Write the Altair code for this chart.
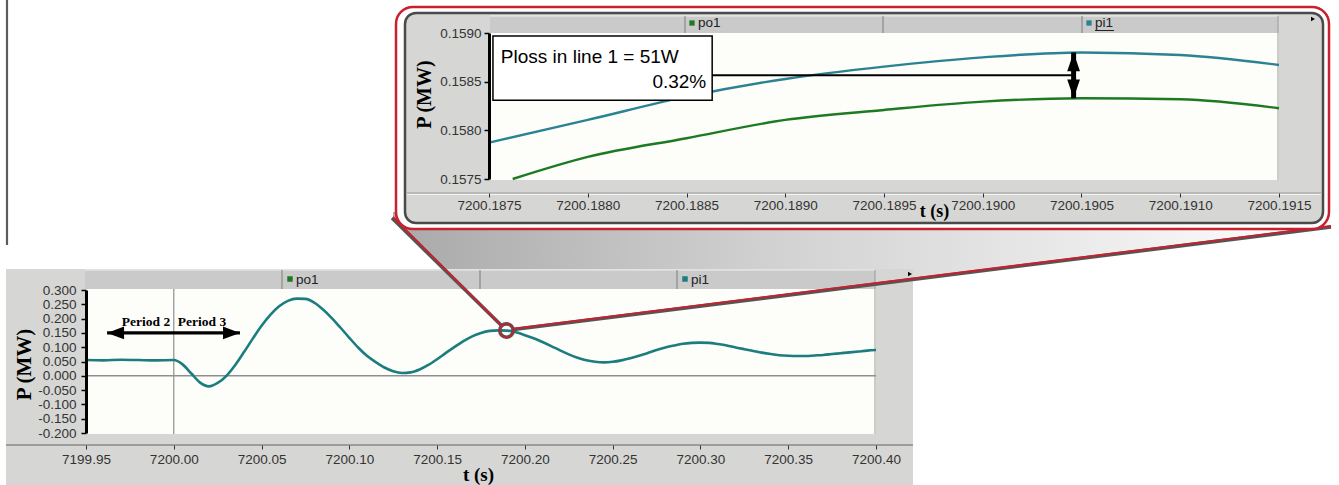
import altair as alt
import pandas as pd

# ---------------- data ----------------
# pi1 power over the whole disturbance (MW)
main_t = [7199.950, 7199.960, 7199.970, 7199.980, 7199.990,
          7200.000, 7200.005, 7200.010, 7200.015, 7200.020, 7200.025, 7200.030, 7200.035, 7200.040, 7200.045,
          7200.050, 7200.055, 7200.060, 7200.065, 7200.070, 7200.075, 7200.080, 7200.085, 7200.090, 7200.095,
          7200.100, 7200.105, 7200.110, 7200.115, 7200.120, 7200.125, 7200.130, 7200.135, 7200.140, 7200.145,
          7200.150, 7200.155, 7200.160, 7200.165, 7200.170, 7200.175, 7200.180, 7200.185, 7200.190, 7200.195,
          7200.200, 7200.205, 7200.210, 7200.215, 7200.220, 7200.225, 7200.230, 7200.235, 7200.240, 7200.245,
          7200.250, 7200.255, 7200.260, 7200.265, 7200.270, 7200.275, 7200.280, 7200.285, 7200.290, 7200.295,
          7200.300, 7200.305, 7200.310, 7200.315, 7200.320, 7200.325, 7200.330, 7200.335, 7200.340, 7200.345,
          7200.350, 7200.355, 7200.360, 7200.365, 7200.370, 7200.375, 7200.380, 7200.385, 7200.390, 7200.395,
          7200.400]
main_p = [0.055, 0.054, 0.056, 0.055, 0.054,
          0.055, 0.040, 0.008, -0.024, -0.037, -0.025, 0.000, 0.038, 0.083, 0.130,
          0.175, 0.213, 0.243, 0.262, 0.270, 0.269, 0.256, 0.232, 0.202, 0.168,
          0.133, 0.099, 0.070, 0.048, 0.029, 0.016, 0.010, 0.012, 0.022, 0.038,
          0.058, 0.080, 0.101, 0.121, 0.138, 0.150, 0.157, 0.159, 0.158, 0.152,
          0.142, 0.131, 0.118, 0.104, 0.089, 0.075, 0.063, 0.054, 0.049, 0.047,
          0.049, 0.054, 0.061, 0.070, 0.080, 0.090, 0.099, 0.106, 0.112, 0.115,
          0.116, 0.115, 0.111, 0.106, 0.099, 0.093, 0.087, 0.081, 0.076, 0.072,
          0.070, 0.069, 0.069, 0.071, 0.073, 0.076, 0.079, 0.082, 0.085, 0.088,
          0.090]

# magnified crest: line input (pi1) and output (po1) power, MW
zoom_pi1_t = [7200.1875, 7200.1880, 7200.1885, 7200.1890, 7200.1895,
              7200.1900, 7200.1905, 7200.1910, 7200.1915]
zoom_pi1_p = [0.157874, 0.158107, 0.158346, 0.158528, 0.158655,
              0.158750, 0.158800, 0.158774, 0.158671]
zoom_po1_t = [7200.18762, 7200.1880, 7200.1885, 7200.1890, 7200.1895,
              7200.1900, 7200.1905, 7200.1910, 7200.1915]
zoom_po1_p = [0.157500, 0.157727, 0.157919, 0.158107, 0.158209,
              0.158295, 0.158330, 0.158319, 0.158227]

main_x_ticks = [7199.95, 7200.00, 7200.05, 7200.10, 7200.15,
                7200.20, 7200.25, 7200.30, 7200.35, 7200.40]
main_y_ticks = [-0.200, -0.150, -0.100, -0.050, 0.000, 0.050,
                0.100, 0.150, 0.200, 0.250, 0.300]
zoom_x_ticks = [7200.1875, 7200.1880, 7200.1885, 7200.1890, 7200.1895,
                7200.1900, 7200.1905, 7200.1910, 7200.1915]
zoom_y_ticks = [0.1575, 0.1580, 0.1585, 0.1590]

series_names = ["po1", "pi1"]
period_names = ["Period 2", "Period 3"]
event_t = 7200.00                      # switching instant between periods
loss_text = ["Ploss in line 1 = 51W", "0.32%"]
gap_t = 7200.19046                     # where the loss gap is measured
gap_hi = 0.158800                      # pi1 there
gap_lo = 0.158330                      # po1 there

# ---------------- styling / layout ----------------
W, H = 1339, 485
SANS = "Liberation Sans"
SERIF = "Liberation Serif"
GREEN = "#1d7a22"
TEAL = "#1c7d7e"
TEAL_Z = "#2a8393"
FRAME = "#d6d6d4"
STRIP = "#cacaca"
PLOT = "#fdfdfa"
LABEL = "#333333"
RED = "#c8202e"

# lower panel
M_LEFT, M_RIGHT, M_TOP, M_BOTTOM, M_AXIS_Y = 86, 876, 290, 433, 445
# upper (magnified) panel
Z_LEFT, Z_RIGHT, Z_TOP, Z_BOTTOM, Z_AXIS_Y = 489, 1279, 33, 179, 193

ONE = pd.DataFrame({"k": [0]})


def box(x0, y0, x1, y1, **kw):
    return alt.Chart(ONE).mark_rect(**kw).encode(
        x=alt.value(x0), x2=alt.value(x1), y=alt.value(y0), y2=alt.value(y1))


def seg(x0, y0, x1, y1, **kw):
    return alt.Chart(ONE).mark_rule(**kw).encode(
        x=alt.value(x0), x2=alt.value(x1), y=alt.value(y0), y2=alt.value(y1))


def txt(x, y, text, **kw):
    return alt.Chart(ONE).mark_text(text=text, **kw).encode(x=alt.value(x), y=alt.value(y))


def dot(x, y, **kw):
    return alt.Chart(ONE).mark_point(filled=True, opacity=1, **kw).encode(
        x=alt.value(x), y=alt.value(y))


# arrowheads with the tip at the anchor point
HEAD_L = "M0,0L4,-1.5L4,1.5Z"
HEAD_R = "M0,0L-4,-1.5L-4,1.5Z"
HEAD_U = "M0,0L-1.5,4.4L1.5,4.4Z"
HEAD_D = "M0,0L-1.5,-4.4L1.5,-4.4Z"

# ---------------- lower panel ----------------
mxs = alt.Scale(domain=[main_x_ticks[0], main_x_ticks[-1]], range=[M_LEFT, M_RIGHT], nice=False, zero=False)
mys = alt.Scale(domain=[main_y_ticks[0], main_y_ticks[-1]], range=[M_BOTTOM, M_TOP], nice=False, zero=False)

main_x_axis = alt.Axis(orient="bottom", offset=M_AXIS_Y - H, values=main_x_ticks, format=".2f",
                       domain=False, grid=False, tickSize=4, tickColor="#333", tickWidth=1,
                       labelFont=SANS, labelFontSize=13.5, labelColor=LABEL, labelPadding=3,
                       labelFlush=False, labelOverlap=False, labelBound=False, zindex=1,
                       title="t (s)", titleFont=SERIF, titleFontSize=19, titleFontWeight="bold",
                       titleColor="black", titleX=478, titleY=29, titleAlign="center",
                       titleBaseline="middle")
main_y_axis = alt.Axis(orient="left", offset=-M_LEFT, values=main_y_ticks, format=".3f",
                       labelExpr="replace(datum.label, '\u2212', '-')",
                       domain=True, domainColor="black", domainWidth=3, grid=False,
                       tickSize=5, tickColor="black", tickWidth=1.5,
                       labelFont=SANS, labelFontSize=13.5, labelColor=LABEL, labelPadding=5,
                       labelFlush=False, labelOverlap=False, labelBound=False, zindex=1,
                       title="P (MW)", titleFont=SERIF, titleFontSize=21, titleFontWeight="bold",
                       titleColor="black", titleX=24 - M_LEFT, titleY=364, titleAngle=270,
                       titleAlign="center", titleBaseline="middle")


def MX(f):
    return alt.X(f, type="quantitative", scale=mxs, axis=main_x_axis)


def MY(f):
    return alt.Y(f, type="quantitative", scale=mys, axis=main_y_axis)


main_df = pd.DataFrame({"t": main_t, "p": main_p})

main_layers = [
    box(6, 269, 913, 485, fill=FRAME),
    box(85, 270, 875, 289, fill=STRIP),
    seg(85, 270, 875, 270, color="#eeeeee", strokeWidth=1),
    box(M_LEFT, 289, M_RIGHT, 434, fill=PLOT),
    seg(282, 270, 282, 289, color="#7c7c7c", strokeWidth=1),
    seg(480, 270, 480, 289, color="#7c7c7c", strokeWidth=1),
    seg(677, 270, 677, 289, color="#7c7c7c", strokeWidth=1),
    seg(875, 270, 875, 434, color="#9a9a9a", strokeWidth=1),
    seg(6, M_AXIS_Y, 913, M_AXIS_Y, color="#8a8a8a", strokeWidth=1.5),
    dot(910, 274, shape="triangle-right", size=22, color="black"),
    dot(290, 279, shape="square", size=30, color=GREEN),
    txt(296, 280, series_names[0], font=SANS, fontSize=13.5, color="#222", align="left", baseline="middle"),
    dot(685, 279, shape="square", size=30, color=TEAL),
    txt(691, 280, series_names[1], font=SANS, fontSize=13.5, color="#222", align="left", baseline="middle"),
    alt.Chart(pd.DataFrame({"t": [event_t]})).mark_rule(color="#8f8f8f", strokeWidth=1.2).encode(
        x=MX("t"), y=alt.value(289), y2=alt.value(434)),
    alt.Chart(pd.DataFrame({"p": [0.0]})).mark_rule(color="#8f8f8f", strokeWidth=1.5).encode(
        y=MY("p"), x=alt.value(M_LEFT), x2=alt.value(M_RIGHT)),
    alt.Chart(main_df).mark_line(color=TEAL, strokeWidth=2.6, interpolate="monotone").encode(
        x=MX("t"), y=MY("p")),
]

# "Period 2 | Period 3" double arrow across the switching instant
arrow_df = pd.DataFrame({"t0": [7199.962], "t1": [7200.0377], "p": [0.15]})
main_layers += [
    alt.Chart(arrow_df).mark_rule(color="black", strokeWidth=3.2).encode(
        x=MX("t0"), x2="t1", y=MY("p")),
    alt.Chart(arrow_df).mark_point(shape=HEAD_L, size=72, filled=True, opacity=1, color="black").encode(
        x=MX("t0"), y=MY("p")),
    alt.Chart(arrow_df).mark_point(shape=HEAD_R, size=72, filled=True, opacity=1, color="black").encode(
        x=MX("t1"), y=MY("p")),
    alt.Chart(pd.DataFrame({"t": [7199.9842, 7200.0161], "p": [0.188, 0.188], "lab": period_names}))
    .mark_text(font=SERIF, fontSize=13.5, fontWeight="bold", color="black", baseline="middle")
    .encode(x=MX("t"), y=MY("p"), text="lab:N"),
]
main_group = alt.layer(*main_layers)

# ---------------- callout between the panels ----------------
zc_t = (zoom_x_ticks[0] + zoom_x_ticks[-1]) / 2
zc_p = (zoom_y_ticks[0] + zoom_y_ticks[-1]) / 2
cx = M_LEFT + (zc_t - main_x_ticks[0]) / (main_x_ticks[-1] - main_x_ticks[0]) * (M_RIGHT - M_LEFT)
cy = M_BOTTOM - (zc_p - main_y_ticks[0]) / (main_y_ticks[-1] - main_y_ticks[0]) * (M_BOTTOM - M_TOP)

shadow_df = pd.DataFrame({"x": [393, cx, 1331], "y": [212, 212, 212], "y2": [217, cy, 226]})
shadow = alt.Chart(shadow_df).mark_area(
    opacity=0.85,
    color=alt.Gradient(gradient="linear",
                       stops=[alt.GradientStop(color="#9a9a9a", offset=0),
                              alt.GradientStop(color="#c9c9c9", offset=0.4),
                              alt.GradientStop(color="#ffffff", offset=1)],
                       x1=0, x2=1, y1=0, y2=0)
).encode(x=alt.X("x:Q", scale=None, axis=None), y=alt.Y("y:Q", scale=None, axis=None),
         y2="y2:Q")

callout = [
    seg(392, 218, cx - 5.5, cy - 5.5, color="#555555", strokeWidth=3.6),
    seg(393, 217, cx - 5.5, cy - 5.5, color=RED, strokeWidth=1.8),
    seg(cx + 7, cy - 1, 1331, 227, color="#555555", strokeWidth=3.6),
    seg(cx + 7, cy - 2, 1331, 226, color=RED, strokeWidth=1.8),
]
circle = [
    alt.Chart(pd.DataFrame({"t": [zc_t], "p": [zc_p]})).mark_point(
        shape="circle", size=180, filled=False, opacity=1, color="#555555", strokeWidth=3.6).encode(
        x=alt.X("t:Q", scale=mxs, axis=None), y=alt.Y("p:Q", scale=mys, axis=None)),
    alt.Chart(pd.DataFrame({"t": [zc_t], "p": [zc_p]})).mark_point(
        shape="circle", size=180, filled=False, opacity=1, color=RED, strokeWidth=1.6).encode(
        x=alt.X("t:Q", scale=mxs, axis=None), y=alt.Y("p:Q", scale=mys, axis=None)),
]

# ---------------- upper (magnified) panel ----------------
zxs = alt.Scale(domain=[zoom_x_ticks[0], zoom_x_ticks[-1]], range=[Z_LEFT, Z_RIGHT], nice=False, zero=False)
zys = alt.Scale(domain=[zoom_y_ticks[0], zoom_y_ticks[-1]], range=[Z_BOTTOM, Z_TOP], nice=False, zero=False)

zoom_x_axis = alt.Axis(orient="bottom", offset=Z_AXIS_Y - H, values=zoom_x_ticks, format=".4f",
                       domain=False, grid=False, tickSize=4, tickColor="#333", tickWidth=1,
                       labelFont=SANS, labelFontSize=13.5, labelColor=LABEL, labelPadding=1,
                       labelFlush=False, labelOverlap=False, labelBound=False, zindex=1,
                       title="t (s)", titleFont=SERIF, titleFontSize=18, titleFontWeight="bold",
                       titleColor="black", titleX=934, titleY=18, titleAlign="center",
                       titleBaseline="middle")
zoom_y_axis = alt.Axis(orient="left", offset=-Z_LEFT, values=zoom_y_ticks, format=".4f",
                       domain=True, domainColor="black", domainWidth=3, grid=False,
                       tickSize=5, tickColor="black", tickWidth=1.5,
                       labelFont=SANS, labelFontSize=13.5, labelColor=LABEL, labelPadding=3,
                       labelFlush=False, labelOverlap=False, labelBound=False, zindex=1,
                       title="P (MW)", titleFont=SERIF, titleFontSize=20, titleFontWeight="bold",
                       titleColor="black", titleX=424 - Z_LEFT, titleY=94, titleAngle=270,
                       titleAlign="center", titleBaseline="middle")


def ZX(f):
    return alt.X(f, type="quantitative", scale=zxs, axis=zoom_x_axis)


def ZY(f):
    return alt.Y(f, type="quantitative", scale=zys, axis=zoom_y_axis)


pi1_df = pd.DataFrame({"t": zoom_pi1_t, "p": zoom_pi1_p})
po1_df = pd.DataFrame({"t": zoom_po1_t, "p": zoom_po1_p})
gap_df = pd.DataFrame({"t": [gap_t], "hi": [gap_hi], "lo": [gap_lo],
                       "mid": [(gap_hi + gap_lo) / 2], "t0": [7200.18863]})
note_df = pd.DataFrame({"t0": [7200.18752], "t1": [7200.18863], "p0": [0.15831], "p1": [0.15897]})

zoom_layers = [
    box(396, 7, 1329, 229, fill="white", stroke=RED, strokeWidth=2.5, cornerRadius=17),
    box(405, 13, 1323, 223, fill=FRAME, stroke="#4a4a4a", strokeWidth=2.5, cornerRadius=11),
    box(490, 16, 1278, 33, fill=STRIP),
    seg(490, 16, 1278, 16, color="#eeeeee", strokeWidth=1),
    box(Z_LEFT, Z_TOP, Z_RIGHT, 180, fill=PLOT),
    seg(685, 16, 685, 33, color="#7c7c7c", strokeWidth=1),
    seg(883, 16, 883, 33, color="#7c7c7c", strokeWidth=1),
    seg(1082, 16, 1082, 33, color="#7c7c7c", strokeWidth=1),
    seg(1278, 16, 1278, 180, color="#9a9a9a", strokeWidth=1),
    seg(407, Z_AXIS_Y, 1321, Z_AXIS_Y, color="#9c9c9c", strokeWidth=1),
    seg(407, Z_AXIS_Y + 1.5, 1321, Z_AXIS_Y + 1.5, color="#f4f4f4", strokeWidth=1),
    dot(1313, 19, shape="triangle-right", size=22, color="black"),
    dot(692, 23, shape="square", size=28, color=GREEN),
    txt(698, 23, series_names[0], font=SANS, fontSize=13.5, color="#222", align="left", baseline="middle"),
    dot(1089, 23, shape="square", size=28, color=TEAL_Z),
    txt(1095, 23, series_names[1], font=SANS, fontSize=13.5, color="#222", align="left", baseline="middle"),
    seg(1095, 30.5, 1114, 30.5, color="#222", strokeWidth=1),
    alt.Chart(po1_df).mark_line(color=GREEN, strokeWidth=2.4, interpolate="monotone").encode(
        x=ZX("t"), y=ZY("p")),
    alt.Chart(pi1_df).mark_line(color=TEAL_Z, strokeWidth=2.4, interpolate="monotone").encode(
        x=ZX("t"), y=ZY("p")),
    # loss annotation box
    alt.Chart(note_df).mark_rect(fill="white", stroke="black", strokeWidth=1.5).encode(
        x=ZX("t0"), x2="t1", y=ZY("p0"), y2="p1"),
    alt.Chart(pd.DataFrame({"t": [7200.18756], "p": [0.158754]})).mark_text(
        text=loss_text[0], font=SANS, fontSize=19, color="black", align="left", baseline="middle").encode(
        x=ZX("t"), y=ZY("p")),
    alt.Chart(pd.DataFrame({"t": [7200.18860], "p": [0.158492]})).mark_text(
        text=loss_text[1], font=SANS, fontSize=19, color="black", align="right", baseline="middle").encode(
        x=ZX("t"), y=ZY("p")),
    # leader from the box to the gap, and the double arrow spanning it
    alt.Chart(gap_df).mark_rule(color="black", strokeWidth=2).encode(
        x=ZX("t0"), x2="t", y=ZY("mid")),
    alt.Chart(gap_df).mark_rule(color="black", strokeWidth=5).encode(
        x=ZX("t"), y=ZY("hi"), y2="lo"),
    alt.Chart(gap_df).mark_point(shape=HEAD_U, size=72, filled=True, opacity=1, color="black").encode(
        x=ZX("t"), y=ZY("hi")),
    alt.Chart(gap_df).mark_point(shape=HEAD_D, size=72, filled=True, opacity=1, color="black").encode(
        x=ZX("t"), y=ZY("lo")),
]
zoom_group = alt.layer(*zoom_layers)

# ---------------- page ----------------
page_marks = [
    seg(7, 0, 7, 245, color="#5c5c5c", strokeWidth=2.2),      # left border stroke
    seg(100, 452, 100, 485, color="black", strokeWidth=1.2),  # cursor mark
]

chart = alt.layer(
    *page_marks, shadow, main_group, *callout, *circle, zoom_group
).resolve_scale(x="independent", y="independent").properties(
    width=W, height=H, padding=0, background="white",
    autosize=alt.AutoSizeParams(type="none"),
).configure_view(stroke=None)

chart.save("out.html", embed_options={"renderer": "svg", "actions": False})
